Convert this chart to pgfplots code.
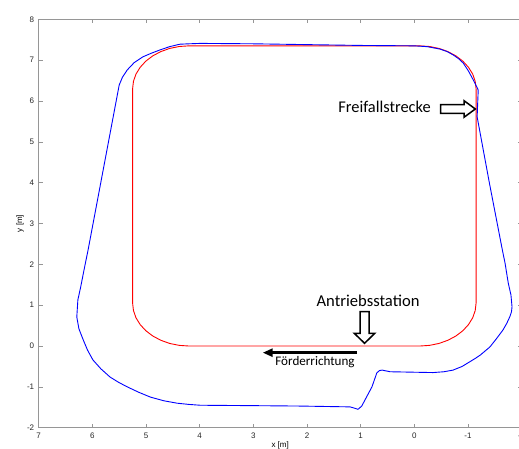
\documentclass[border=0pt]{standalone}
\usepackage{pgfplots}
\pgfplotsset{compat=1.18}
\usepackage{fontspec}
\setmainfont{Liberation Sans}
\newfontfamily\calibri{Carlito}
\usetikzlibrary{arrows.meta}

\definecolor{spine}{RGB}{150,150,150}
\definecolor{trackred}{RGB}{255,0,0}
\definecolor{trackblue}{RGB}{0,0,255}

\begin{document}
\begin{tikzpicture}
\begin{axis}[
    at={(0,0)}, anchor=south west,
    scale only axis,
    width=483pt, height=408.4pt,
    x dir=reverse,
    xmin=-2, xmax=7, ymin=-2, ymax=8,
    xtick={-2,-1,...,7}, ytick={-2,-1,...,8},
    tick align=inside, major tick length=4pt,
    axis line style={spine, line width=0.8pt},
    tick style={spine, line width=0.6pt},
    /pgf/number format/assume math mode=true,
    tick label style={font=\fontsize{8}{9}\selectfont, text=black!85},
    xticklabel style={yshift=-2pt},
    yticklabel style={xshift=-1pt},
    xlabel={x [m]}, ylabel={y [m]},
    xlabel style={font=\fontsize{8}{9}\selectfont, inner sep=0pt,
        at={([yshift=-13.7pt]axis description cs:0.5,0)}, anchor=north},
    ylabel style={font=\fontsize{8}{9}\selectfont, inner sep=0pt, rotate=0,
        at={([xshift=-14.7pt]axis description cs:0,0.5)}, anchor=south},
]

% Sollbahn (rot)
\addplot[trackred, line width=0.9pt, line join=round] coordinates {
    (4.20,0) (4.382,0.016) (4.559,0.063) (4.725,0.141) (4.875,0.246) (5.004,0.375)
    (5.109,0.525) (5.187,0.691) (5.234,0.868) (5.25,1.05)
    (5.25,6.30) (5.234,6.482) (5.187,6.659) (5.109,6.825) (5.004,6.975) (4.875,7.104)
    (4.725,7.209) (4.559,7.287) (4.382,7.334) (4.20,7.35)
    (-0.10,7.35) (-0.282,7.334) (-0.459,7.287) (-0.625,7.209) (-0.775,7.104) (-0.904,6.975)
    (-1.009,6.825) (-1.087,6.659) (-1.134,6.482) (-1.15,6.30)
    (-1.15,1.05) (-1.134,0.868) (-1.087,0.691) (-1.009,0.525) (-0.904,0.375) (-0.775,0.246)
    (-0.625,0.141) (-0.459,0.063) (-0.282,0.016) (-0.10,0)
    (4.20,0)
};

% gemessene Bahn (blau)
\addplot[trackblue, line width=0.9pt, line join=round] coordinates {
    (0,7.35) (1,7.36) (2,7.38) (3,7.40) (3.99,7.41) (4.20,7.40) (4.37,7.39)
    (4.56,7.33) (4.74,7.25) (4.90,7.17) (5.06,7.08) (5.22,6.94) (5.35,6.76)
    (5.44,6.58) (5.50,6.39) (5.79,4.37) (6.08,2.35) (6.145,1.93)
    (6.22,1.43) (6.27,1.13) (6.29,0.71) (6.25,0.42) (6.17,0.15) (6.09,-0.10)
    (5.99,-0.34) (5.84,-0.56) (5.67,-0.76) (5.51,-0.89) (5.35,-1.0) (5.14,-1.13)
    (4.92,-1.25) (4.67,-1.34) (4.42,-1.40) (4.20,-1.43) (3.99,-1.45)
    (3.0,-1.46) (2.13,-1.47) (1.20,-1.49)
    (1.12,-1.52) (1.05,-1.55) (0.98,-1.47) (0.92,-1.32) (0.79,-1.00) (0.70,-0.66)
    (0.65,-0.60) (0.60,-0.59) (0.45,-0.63)
    (-0.35,-0.65) (-0.55,-0.63) (-0.72,-0.59) (-0.89,-0.50) (-1.04,-0.38)
    (-1.14,-0.30) (-1.23,-0.22) (-1.32,-0.12) (-1.41,-0.02) (-1.53,0.18)
    (-1.65,0.39) (-1.72,0.55) (-1.78,0.72) (-1.81,0.84) (-1.82,0.96)
    (-1.80,1.25) (-1.75,1.54) (-1.69,2.03) (-1.64,2.35)
    (-1.40,3.98) (-1.17,5.61) (-1.19,6.27) (-1.10,6.51) (-1.01,6.73)
    (-0.91,6.93) (-0.82,7.04) (-0.72,7.13) (-0.61,7.21) (-0.48,7.27)
    (-0.24,7.33) (0,7.35)
};

% Beschriftungen
\node[anchor=base, font=\calibri\fontsize{16.4}{18}\selectfont, inner sep=0pt]
    at (axis cs:0.556,5.723) {Freifallstrecke};
\draw[black, line width=1.5pt, fill=white, line join=miter]
    (axis cs:-1.136,5.804) -- +(-11.3pt,8.3pt) -- +(-11.3pt,4.4pt) -- +(-34.6pt,4.4pt)
    -- +(-34.6pt,-4.4pt) -- +(-11.3pt,-4.4pt) -- +(-11.3pt,-8.3pt) -- cycle;

\node[anchor=base, font=\calibri\fontsize{16.6}{18}\selectfont, inner sep=0pt]
    at (axis cs:0.863,0.963) {Antriebsstation};
\draw[black, line width=1.5pt, fill=white, line join=miter]
    (axis cs:0.928,0.067) -- +(-10.3pt,10pt) -- +(-4.5pt,10pt) -- +(-4.5pt,31.6pt)
    -- +(4.5pt,31.6pt) -- +(4.5pt,10pt) -- +(10.3pt,10pt) -- cycle;

\draw[black, line width=2.7pt, -{Triangle[length=10pt,width=8pt]}]
    (axis cs:1.068,-0.163) -- (axis cs:2.826,-0.163);
\node[anchor=base, font=\calibri\fontsize{13.1}{15}\selectfont, inner sep=0pt]
    at (axis cs:1.851,-0.489) {Förderrichtung};

\end{axis}
\pgfresetboundingbox
\useasboundingbox (-38.7pt,-20.3pt) rectangle (480.3pt,427.7pt);
\end{tikzpicture}
\end{document}
